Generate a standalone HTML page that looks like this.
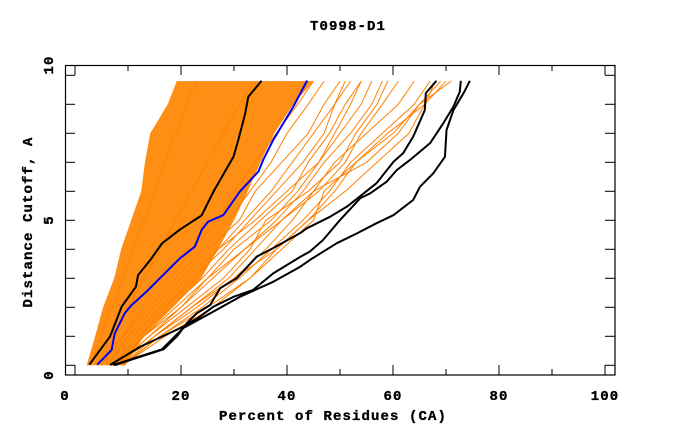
<!DOCTYPE html>
<html><head><meta charset="utf-8"><style>
html,body{margin:0;padding:0;background:#fff;}
svg{display:block;}
text{font-family:"Liberation Mono","DejaVu Sans Mono",monospace;font-weight:bold;font-size:14px;letter-spacing:1.1px;fill:#000;stroke:#000;stroke-width:0.35px;}
</style></head><body>
<svg id="chart" width="680" height="440" viewBox="0 0 680 440">
<text x="348" y="30" text-anchor="middle">T0998-D1</text>
<g id="plot"></g>
<rect x="65.5" y="65.5" width="549.5" height="309.5" fill="none" stroke="#000" stroke-width="1.2"/>
<g id="ticks"></g>
<text x="333" y="420" text-anchor="middle">Percent of Residues (CA)</text>
<text transform="translate(32,222) rotate(-90)" text-anchor="middle">Distance Cutoff, A</text>
</svg>
<script>
const yLevels=[0,1,2,3,4,5,6,7,8,9,9.8];
const bandLeft=[2.2,3.8,5.3,7.4,8.7,10.6,12.5,13.2,14.2,17.5,19.2];
const bandRight=[9.5,13,18.5,23.8,27,30,32.6,35,37.6,41.2,45];
const orangeLines=[
[3,5,7,9,11,13,15,17,19,21,23],
[4,7,10,13,16,19,22,25,28,31,34],
[5,9,13,18,22,27,30,34,38,42,45],
[5,9,14,19,24,29,33,37,40,44,47],
[6,10,15,20,25,31,34,39,44,47,50],
[6,11,16,21,27,32,37,41,45,49,52],
[7,12,17,22,28,33,38,43,47,49,51],
[7,12,18,24,29,35,41,44,48,51,54],
[7,13,19,25,30,37,42,46,50,54,56],
[8,13,20,26,32,38,43,47,52,56,58],
[8,14,21,28,33,36,44,50,53,57,59],
[8,15,22,29,34,39,46,51,54,58,61],
[9,15,22,30,36,41,45,49,55,61,64],
[9,16,24,31,37,43,48,52,58,64,67],
[9,16,25,33,38,44,49,53,59,66,70],
[9,17,26,33,39,45,47,53,60,65,71],
[8,14,20,25,32,39,45,55,61,65,69],
[9,15,23,30,38,44,51,57,63,66,68],
[7,12,17,23,27,34,40,46,49,52,54]
];
const blackAx=[7.5,16.7,19.2,21.1,23.0,25.5,27.4,30.5,34.3,37.4,42.5,43.7,48.1,51.3,56.9,60.1,61.9,63.8,66.0,66.2,68.2];
const blackAy=[0.01,0.55,0.99,1.45,1.8,2.08,2.66,3.0,3.75,4.04,4.56,4.72,5.12,5.47,6.28,7.02,7.31,7.88,8.8,9.39,9.81];
const blackBx=[6.6,12.3,20.4,23.6,26.1,29.9,33.6,37.4,42.5,44.3,46.8,50.0,53.8,55.7,58.8,60.7,63.2,67.0,69.5,71.4,72.6,72.8];
const blackBy=[0.01,0.64,1.33,1.68,2.02,2.36,2.6,3.17,3.74,3.92,4.32,5.01,5.76,5.93,6.33,6.73,7.08,7.66,8.35,8.92,9.43,9.81];
const blackCx=[7.2,16.4,20.4,25.5,31.1,37.4,42.5,44.3,49.4,53.2,56.9,60.1,63.8,65.1,67.6,69.8,70.1,71.4,73.3,74.5];
const blackCy=[0.01,0.55,1.28,1.79,2.36,2.88,3.4,3.63,4.21,4.55,4.9,5.18,5.7,6.16,6.62,7.19,8.11,8.8,9.38,9.81];
const blackDx=[2.7,6.6,8.8,11.5,11.9,14.2,16.4,19.8,23.9,26.1,29.9,30.8,32.1,32.7,35.2];
const blackDy=[0.02,0.99,2.02,2.71,3.11,3.63,4.2,4.68,5.17,5.98,7.19,7.76,8.68,9.26,9.81];
const blueX=[4.2,6.9,7.5,9.4,10.7,13.5,16.0,19.8,22.6,23.9,25.1,28.0,31.1,34.6,35.5,37.4,41.2,43.8];
const blueY=[0.02,0.53,1.1,1.8,2.08,2.54,3.0,3.69,4.09,4.67,4.95,5.18,5.99,6.68,7.08,7.77,8.92,9.82];
const xTicks=[0,10,20,30,40,50,60,70,80,90,100];
const xLabels=["0","20","40","60","80","100"];
const xLabelVals=[0,20,40,60,80,100];
const yTicks=[0,1,2,3,4,5,6,7,8,9,10];
const yLabels=["0","5","10"];

const NS="http://www.w3.org/2000/svg";
function X(v){return 75+5.3*v;}
function Y(v){return 365.3-29*v;}
const plot=document.getElementById('plot');
const ticks=document.getElementById('ticks');
function mk(tag,attrs,parent){const e=document.createElementNS(NS,tag);for(const k in attrs)e.setAttribute(k,attrs[k]);parent.appendChild(e);return e;}

let bandPts=[];
for(let i=0;i<yLevels.length;i++)bandPts.push(X(bandLeft[i])+','+Y(yLevels[i]));
for(let i=yLevels.length-1;i>=0;i--)bandPts.push(X(bandRight[i])+','+Y(yLevels[i]));
const band=mk('polygon',{points:bandPts.join(' '),fill:'#ff8500','fill-opacity':'0.92'},plot);



orangeLines.forEach((row,j)=>{
  const pts=row.map((v,i)=>X(v)+','+Y(yLevels[i])).join(' ');
  const l=mk('polyline',{points:pts,fill:'none',stroke:'#ff8000','stroke-width':'1'},plot);
  
  
});
function series(xs,ys,color,name){
  const pts=xs.map((v,i)=>X(v)+','+Y(ys[i])).join(' ');
  const l=mk('polyline',{points:pts,fill:'none',stroke:color,'stroke-width':'2','stroke-linejoin':'round'},plot);
  
  
}
series(blackAx,blackAy,'#000','reference-line-a');
series(blackBx,blackBy,'#000','reference-line-b');
series(blackCx,blackCy,'#000','reference-line-c');
series(blackDx,blackDy,'#000','reference-line-d');
series(blueX,blueY,'#0000ff','highlight-model-line');

xTicks.forEach(v=>{
  const len=(v%20===0)?10:6;
  const t1=mk('line',{x1:X(v),x2:X(v),y1:375,y2:375-len,stroke:'#000','stroke-width':'1'},ticks);
  
  
  const t2=mk('line',{x1:X(v),x2:X(v),y1:65,y2:65+len,stroke:'#000','stroke-width':'1'},ticks);
  
  
});
xLabels.forEach((s,i)=>{
  const v=xLabelVals[i];
  const x=v===0?65:X(v);
  const t=mk('text',{x:x,y:400,'text-anchor':'middle'},ticks);
  t.textContent=s;
  
  
});
yTicks.forEach(v=>{
  const t1=mk('line',{x1:65,x2:75,y1:Y(v),y2:Y(v),stroke:'#000','stroke-width':'1'},ticks);
  
  
  const t2=mk('line',{x1:615,x2:605,y1:Y(v),y2:Y(v),stroke:'#000','stroke-width':'1'},ticks);
  
  
});
const yLabelPos=[375,220,65];
yLabels.forEach((s,i)=>{
  const t=mk('text',{transform:'translate(53,'+yLabelPos[i]+') rotate(-90)','text-anchor':'middle'},ticks);
  t.textContent=s;
  
  
});
</script>
</body></html>
